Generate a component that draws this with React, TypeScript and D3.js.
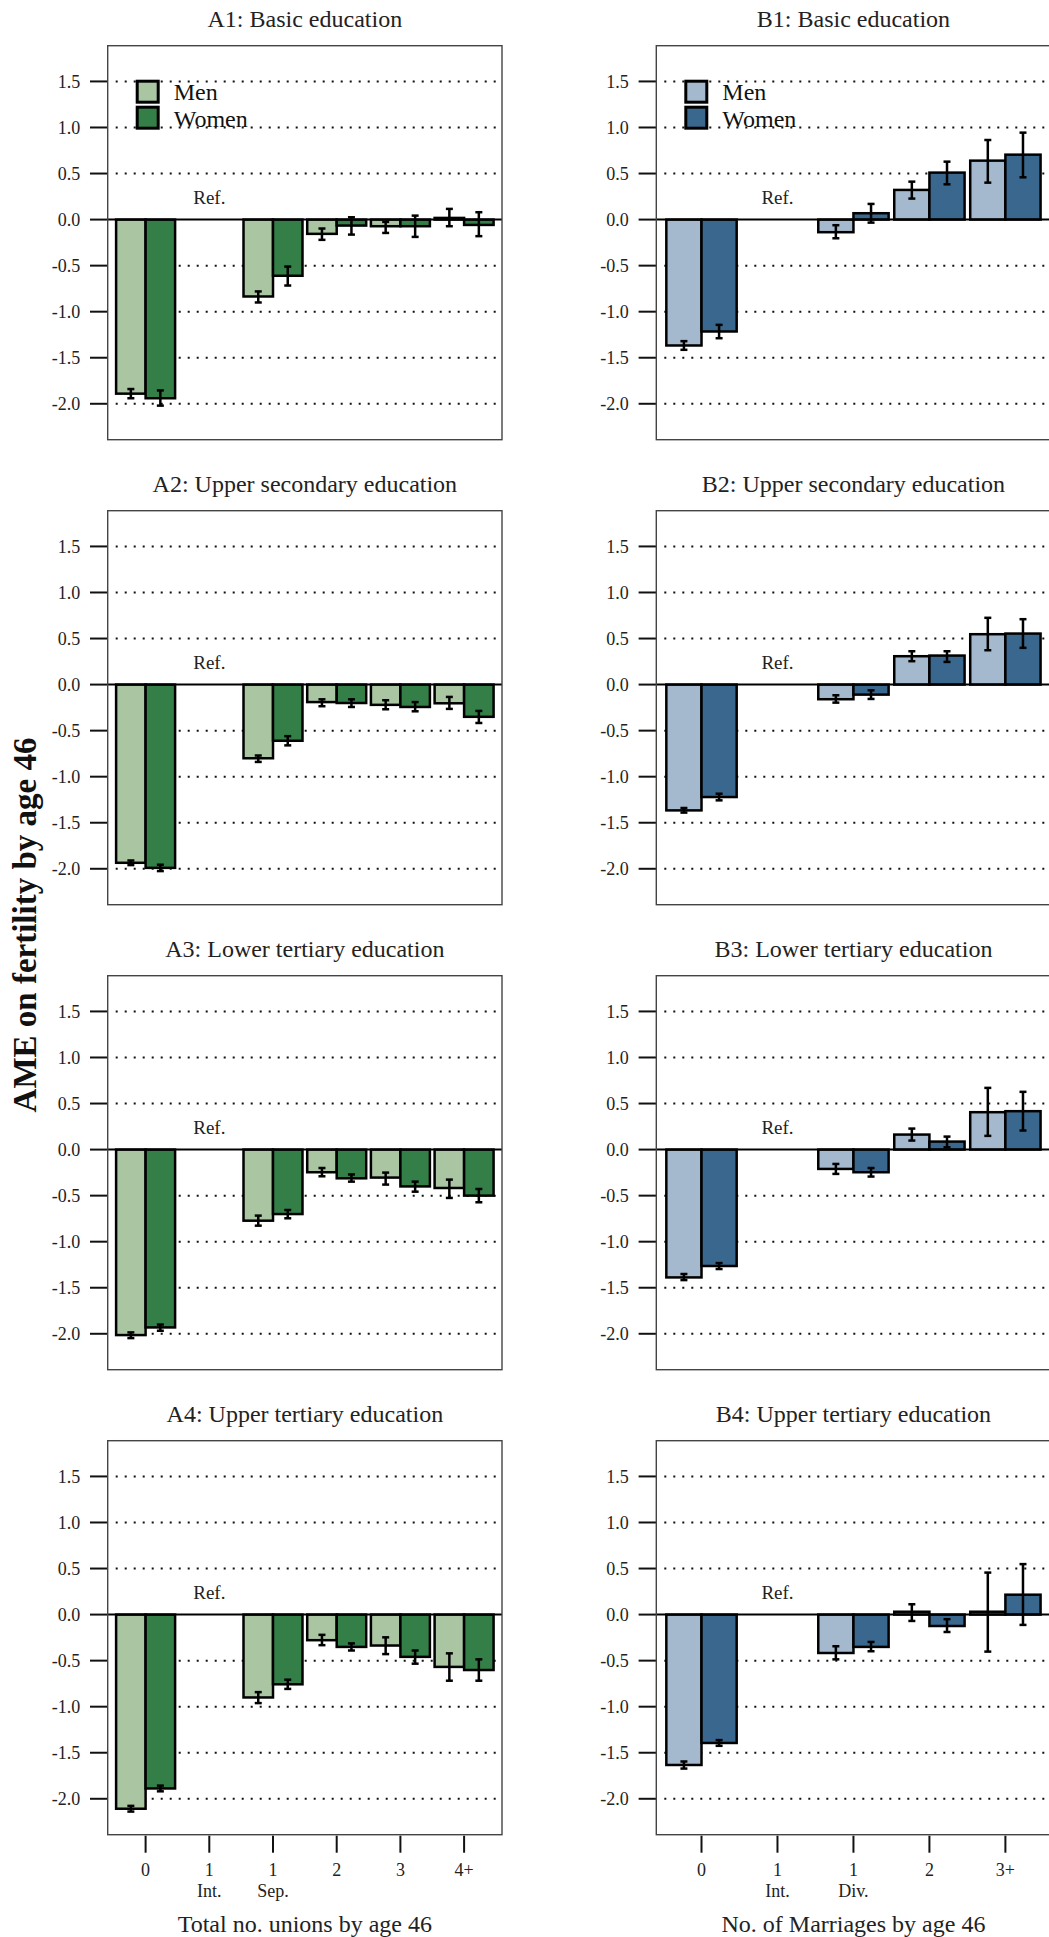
import * as d3 from "d3";

// x categories
const A_TICKS = ["0", "1", "1", "2", "3", "4+"];
const A_SUBS = ["", "Int.", "Sep.", "", "", ""];
const B_TICKS = ["0", "1", "1", "2", "3+"];
const B_SUBS = ["", "Int.", "Div.", "", ""];
const Y_TICKS = [1.5, 1.0, 0.5, 0.0, -0.5, -1.0, -1.5, -2.0];

const A_TITLES = [
  "A1: Basic education",
  "A2: Upper secondary education",
  "A3: Lower tertiary education",
  "A4: Upper tertiary education",
];
const B_TITLES = [
  "B1: Basic education",
  "B2: Upper secondary education",
  "B3: Lower tertiary education",
  "B4: Upper tertiary education",
];

// A panels: total no. unions (index 1 = reference)
const A1_MEN = [-1.89, 0, -0.835, -0.155, -0.072, 0.018];
const A1_MEN_CI = [[-1.94, -1.84], null, [-0.9, -0.78], [-0.22, -0.097], [-0.145, -0.025], [-0.072, 0.116]];
const A1_WOMEN = [-1.94, 0, -0.61, -0.065, -0.072, -0.058];
const A1_WOMEN_CI = [[-2.02, -1.855], null, [-0.716, -0.51], [-0.163, 0.025], [-0.188, 0.043], [-0.18, 0.08]];

const A2_MEN = [-1.935, 0, -0.8, -0.19, -0.22, -0.203];
const A2_MEN_CI = [[-1.96, -1.91], null, [-0.84, -0.77], [-0.235, -0.16], [-0.268, -0.17], [-0.264, -0.134]];
const A2_WOMEN = [-1.99, 0, -0.61, -0.2, -0.243, -0.35];
const A2_WOMEN_CI = [[-2.025, -1.956], null, [-0.66, -0.56], [-0.243, -0.16], [-0.29, -0.19], [-0.417, -0.286]];

const A3_MEN = [-2.014, 0, -0.772, -0.246, -0.304, -0.417];
const A3_MEN_CI = [[-2.047, -1.985], null, [-0.826, -0.717], [-0.29, -0.2], [-0.38, -0.25], [-0.525, -0.326]];
const A3_WOMEN = [-1.931, 0, -0.7, -0.312, -0.4, -0.5];
const A3_WOMEN_CI = [[-1.967, -1.9], null, [-0.746, -0.656], [-0.348, -0.27], [-0.457, -0.348], [-0.572, -0.428]];

const A4_MEN = [-2.108, 0, -0.9, -0.278, -0.336, -0.568];
const A4_MEN_CI = [[-2.139, -2.077], null, [-0.961, -0.842], [-0.332, -0.22], [-0.429, -0.247], [-0.718, -0.421]];
const A4_WOMEN = [-1.888, 0, -0.757, -0.351, -0.459, -0.602];
const A4_WOMEN_CI = [[-1.919, -1.857], null, [-0.807, -0.707], [-0.39, -0.313], [-0.533, -0.39], [-0.718, -0.486]];

// B panels: no. of marriages
const B1_MEN = [-1.367, 0, -0.137, 0.322, 0.64];
const B1_MEN_CI = [[-1.414, -1.32], null, [-0.203, -0.061], [0.228, 0.412], [0.401, 0.864]];
const B1_WOMEN = [-1.215, 0, 0.069, 0.51, 0.705];
const B1_WOMEN_CI = [[-1.288, -1.143], null, [-0.033, 0.17], [0.383, 0.629], [0.459, 0.944]];

const B2_MEN = [-1.366, 0, -0.159, 0.308, 0.547];
const B2_MEN_CI = [[-1.39, -1.34], null, [-0.196, -0.116], [0.254, 0.362], [0.373, 0.725]];
const B2_WOMEN = [-1.221, 0, -0.109, 0.315, 0.554];
const B2_WOMEN_CI = [[-1.257, -1.185], null, [-0.156, -0.062], [0.246, 0.362], [0.399, 0.71]];

const B3_MEN = [-1.388, 0, -0.21, 0.163, 0.406];
const B3_MEN_CI = [[-1.417, -1.351], null, [-0.264, -0.156], [0.098, 0.228], [0.149, 0.67]];
const B3_WOMEN = [-1.264, 0, -0.246, 0.087, 0.417];
const B3_WOMEN_CI = [[-1.297, -1.232], null, [-0.293, -0.2], [0.025, 0.141], [0.207, 0.627]];

const B4_MEN = [-1.633, 0, -0.417, 0.031, 0.031];
const B4_MEN_CI = [[-1.672, -1.595], null, [-0.486, -0.344], [-0.069, 0.112], [-0.402, 0.456]];
const B4_WOMEN = [-1.394, 0, -0.351, -0.124, 0.216];
const B4_WOMEN_CI = [[-1.425, -1.363], null, [-0.398, -0.297], [-0.189, -0.05], [-0.112, 0.548]];

const GREENS = ["#a9c5a1", "#347f47"];
const BLUES = ["#a4b9cd", "#3a678e"];

const FONT = "'Liberation Serif', 'Times New Roman', serif";
const W = 1049;
const H = 1937;
const BOX_W = 394.3;
const BOX_H = 394;
const ROW_STEP = 465;
const TOP0 = 45.7;
const LEFT_A = 107.7;
const LEFT_B = 656.3;
const Y_DOMAIN = [-2.39, 1.888];

// R-style labels with a plain hyphen
const fmt = (t: number) => t.toFixed(1);

type CI = number[] | null;

const Panel = ({ left, top, title, ticks, subs, men, menCI, women, womenCI, colors, legend, xTitle }: any) => {
  const bottom = top + BOX_H;
  const right = left + BOX_W;
  const y = d3.scaleLinear().domain(Y_DOMAIN).range([bottom, top]);
  const x = d3
    .scaleBand<number>()
    .domain(d3.range(ticks.length))
    .range([left, right])
    .paddingInner(0.074)
    .paddingOuter(0.132);
  const sx = d3.scaleBand<number>().domain([0, 1]).range([0, x.bandwidth()]);
  const series = [
    { vals: men as number[], ci: menCI as CI[], fill: colors[0] },
    { vals: women as number[], ci: womenCI as CI[], fill: colors[1] },
  ];
  const cx = (i: number) => (x(i) as number) + x.bandwidth() / 2;

  return (
    <g>
      <text x={left + BOX_W / 2} y={top - 18.5} fontSize={24} textAnchor="middle" fill="#222">
        {title}
      </text>
      {/* dotted gridlines */}
      {Y_TICKS.filter((t) => t !== 0).map((t) => (
        <line key={t} x1={left + 8} x2={right - 2} y1={y(t)} y2={y(t)} stroke="#111" strokeWidth={2} strokeDasharray="2 7" />
      ))}
      {/* y axis ticks */}
      {Y_TICKS.map((t) => (
        <g key={"yt" + t}>
          <line x1={left - 17.7} x2={left} y1={y(t)} y2={y(t)} stroke="#111" strokeWidth={2} />
          <text x={left - 27.5} y={y(t)} dy="0.35em" fontSize={18} textAnchor="end" fill="#222">
            {fmt(t)}
          </text>
        </g>
      ))}
      {/* bars */}
      {series.map((s, k) =>
        s.vals.map((v, i) =>
          s.ci[i] === null ? null : (
            <rect
              key={`b${k}-${i}`}
              x={(x(i) as number) + (sx(k) as number)}
              y={y(Math.max(0, v))}
              width={sx.bandwidth()}
              height={Math.abs(y(v) - y(0))}
              fill={s.fill}
              stroke="#000"
              strokeWidth={2.5}
            />
          )
        )
      )}
      <line x1={left} x2={right} y1={y(0)} y2={y(0)} stroke="#000" strokeWidth={2} />
      {/* error bars */}
      {series.map((s, k) =>
        s.ci.map((c, i) => {
          if (!c) return null;
          const ex = (x(i) as number) + (sx(k) as number) + sx.bandwidth() / 2;
          return (
            <g key={`e${k}-${i}`} stroke="#000" strokeWidth={2.5}>
              <line x1={ex} x2={ex} y1={y(c[0])} y2={y(c[1])} />
              <line x1={ex - 3.5} x2={ex + 3.5} y1={y(c[0])} y2={y(c[0])} />
              <line x1={ex - 3.5} x2={ex + 3.5} y1={y(c[1])} y2={y(c[1])} />
            </g>
          );
        })
      )}
      <text x={cx(1)} y={y(0) - 16} fontSize={19} textAnchor="middle" fill="#222">
        Ref.
      </text>
      <rect x={left} y={top} width={BOX_W} height={BOX_H} fill="none" stroke="#444" strokeWidth={1.4} />
      {legend && (
        <g>
          <rect x={left + 29.5} y={top + 35.5} width={21} height={21} fill={colors[0]} stroke="#000" strokeWidth={3} />
          <rect x={left + 29.5} y={top + 61.5} width={21} height={21} fill={colors[1]} stroke="#000" strokeWidth={3} />
          <text x={left + 66} y={top + 54.3} fontSize={24} fill="#111">Men</text>
          <text x={left + 66} y={top + 81} fontSize={24} fill="#111">Women</text>
        </g>
      )}
      {xTitle && (
        <g>
          {ticks.map((t: string, i: number) => (
            <g key={"xt" + i}>
              <line x1={cx(i)} x2={cx(i)} y1={bottom + 1} y2={bottom + 18} stroke="#111" strokeWidth={2} />
              <text x={cx(i)} y={bottom + 41} fontSize={18} textAnchor="middle" fill="#222">{t}</text>
              {subs[i] && (
                <text x={cx(i)} y={bottom + 62.5} fontSize={18} textAnchor="middle" fill="#222">{subs[i]}</text>
              )}
            </g>
          ))}
          <text x={left + BOX_W / 2} y={bottom + 97.5} fontSize={24} textAnchor="middle" fill="#222">
            {xTitle}
          </text>
        </g>
      )}
    </g>
  );
};

const A_DATA = [
  [A1_MEN, A1_MEN_CI, A1_WOMEN, A1_WOMEN_CI],
  [A2_MEN, A2_MEN_CI, A2_WOMEN, A2_WOMEN_CI],
  [A3_MEN, A3_MEN_CI, A3_WOMEN, A3_WOMEN_CI],
  [A4_MEN, A4_MEN_CI, A4_WOMEN, A4_WOMEN_CI],
];
const B_DATA = [
  [B1_MEN, B1_MEN_CI, B1_WOMEN, B1_WOMEN_CI],
  [B2_MEN, B2_MEN_CI, B2_WOMEN, B2_WOMEN_CI],
  [B3_MEN, B3_MEN_CI, B3_WOMEN, B3_WOMEN_CI],
  [B4_MEN, B4_MEN_CI, B4_WOMEN, B4_WOMEN_CI],
];

export default function App() {
  return (
    <svg
      width={W}
      height={H}
      style={{ position: "absolute", left: 0, top: 0, background: "#fff", fontFamily: FONT }}
    >
      <rect width={W} height={H} fill="#fff" />
      {A_DATA.map((d, r) => (
        <Panel
          key={"a" + r}
          left={LEFT_A}
          top={TOP0 + ROW_STEP * r}
          title={A_TITLES[r]}
          ticks={A_TICKS}
          subs={A_SUBS}
          men={d[0]}
          menCI={d[1]}
          women={d[2]}
          womenCI={d[3]}
          colors={GREENS}
          legend={r === 0}
          xTitle={r === 3 ? "Total no. unions by age 46" : null}
        />
      ))}
      {B_DATA.map((d, r) => (
        <Panel
          key={"b" + r}
          left={LEFT_B}
          top={TOP0 + ROW_STEP * r}
          title={B_TITLES[r]}
          ticks={B_TICKS}
          subs={B_SUBS}
          men={d[0]}
          menCI={d[1]}
          women={d[2]}
          womenCI={d[3]}
          colors={BLUES}
          legend={r === 0}
          xTitle={r === 3 ? "No. of Marriages by age 46" : null}
        />
      ))}
      <text
        transform="translate(36,925) rotate(-90)"
        fontSize={33}
        fontWeight="bold"
        textAnchor="middle"
        fill="#111"
      >
        AME on fertility by age 46
      </text>
    </svg>
  );
}
